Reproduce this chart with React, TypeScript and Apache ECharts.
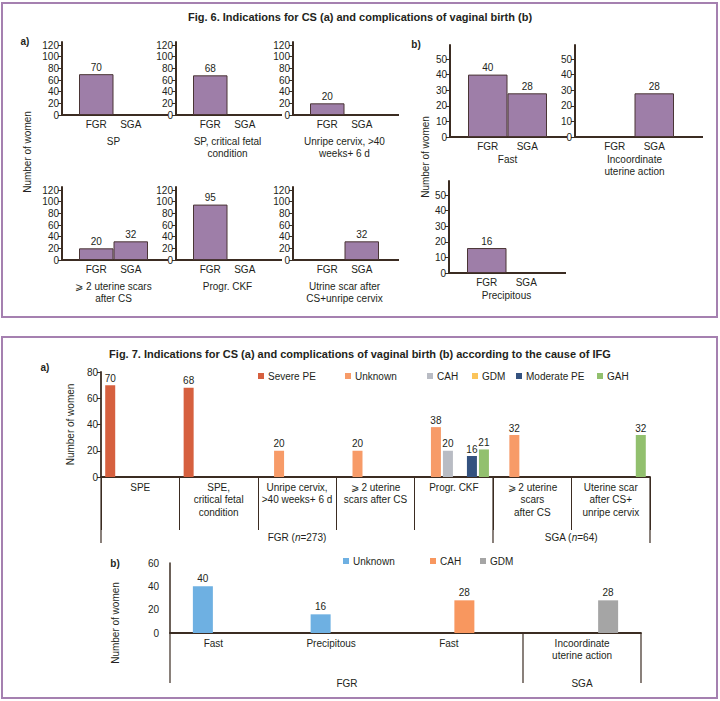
import React, { useEffect, useRef } from 'react';
import * as echarts from 'echarts';

// ---------- DATA ----------
const fig6Groups = ['FGR', 'SGA'];
const fig6aPanels = [
  'SP',
  'SP, critical fetal\ncondition',
  'Unripe cervix, >40\nweeks+ 6 d',
  '⩾ 2 uterine scars\nafter CS',
  'Progr. CKF',
  'Utrine scar after\nCS+unripe cervix',
];
const fig6aFGR = [70, 68, 20, 20, 95, null];
const fig6aSGA = [null, null, null, 32, null, 32];
const fig6aTicks = [0, 20, 40, 60, 80, 100, 120];

const fig6bPanels = ['Fast', 'Incoordinate\nuterine action', 'Precipitous'];
const fig6bFGR = [40, null, 16];
const fig6bSGA = [28, 28, null];
const fig6bTicks = [0, 10, 20, 30, 40, 50];

const fig7aCategories = [
  'SPE',
  'SPE,\ncritical fetal\ncondition',
  'Unripe cervix,\n>40 weeks+ 6 d',
  '⩾ 2 uterine\nscars after CS',
  'Progr. CKF',
  '⩾ 2 uterine\nscars\nafter CS',
  'Uterine scar\nafter CS+\nunripe cervix',
];
const fig7aSeriesNames = ['Severe PE', 'Unknown', 'CAH', 'GDM', 'Moderate PE', 'GAH'];
const fig7aSeverePE = [70, 68, null, null, null, null, null];
const fig7aUnknown = [null, null, 20, 20, 38, 32, null];
const fig7aCAH = [null, null, null, null, 20, null, null];
const fig7aGDM = [null, null, null, null, null, null, null];
const fig7aModeratePE = [null, null, null, null, 16, null, null];
const fig7aGAH = [null, null, null, null, 21, null, 32];
const fig7aGroups = ['FGR (n=273)', 'SGA (n=64)'];

const fig7bCategories = ['Fast', 'Precipitous', 'Fast', 'Incoordinate\nuterine action'];
const fig7bSeriesNames = ['Unknown', 'CAH', 'GDM'];
const fig7bUnknown = [40, 16, null, null];
const fig7bCAH = [null, null, 28, null];
const fig7bGDM = [null, null, null, 28];
const fig7bGroups = ['FGR', 'SGA'];

// ---------- STYLE / LAYOUT ----------
const FONT = '"Liberation Sans", Arial, sans-serif';
const NARROW = '"Liberation Sans Narrow", "Liberation Sans", Arial, sans-serif';
const INK = '#231f20';
const AXIS = '#3b2c22';
const BAR6 = '#9e7ea8';
const BAR6_EDGE = '#4a3535';
const BOX = '#a580b0';
const COLORS7A = ['#d6603f', '#f79b68', '#b9bcc4', '#fbc45a', '#34527f', '#92c06e'];
const COLORS7B = ['#6eb0e2', '#f8975f', '#a5a5a5'];

export default function App() {
  const ref = useRef<HTMLDivElement>(null);

  useEffect(() => {
    const chart = echarts.init(ref.current!, null, { renderer: 'svg' });
    const grids: any[] = [];
    const xAxes: any[] = [];
    const yAxes: any[] = [];
    const series: any[] = [];
    const graphics: any[] = [];
    const legends: any[] = [];

    const txt = { fontFamily: FONT, fontSize: 10, color: INK };

    const hline = (x1: number, x2: number, y: number, w = 1.5) =>
      graphics.push({ type: 'line', shape: { x1, y1: y, x2, y2: y }, style: { stroke: AXIS, lineWidth: w } });
    const vline = (x: number, y1: number, y2: number, w = 1) =>
      graphics.push({ type: 'line', shape: { x1: x, y1, x2: x, y2 }, style: { stroke: AXIS, lineWidth: w } });

    // small multiples for Fig. 6
    const addSmall = (
      x0: number, zero: number, pxPerUnit: number, max: number, ticks: number[],
      padL: number, catW: number, lineLen: number, name: string, nameGap: number,
      fgr: number | null, sga: number | null,
    ) => {
      const gi = grids.length;
      const h = max * pxPerUnit;
      grids.push({ left: x0 + padL, top: zero - h, width: catW * 2, height: h });
      xAxes.push({
        gridIndex: gi, type: 'category', data: fig6Groups,
        axisLine: { show: false }, axisTick: { show: false },
        axisLabel: { ...txt, margin: 4, interval: 0 },
        name, nameLocation: 'middle', nameGap,
        nameTextStyle: { ...txt, lineHeight: 12.5 },
      });
      yAxes.push({
        gridIndex: gi, type: 'value', min: 0, max, offset: padL,
        splitLine: { show: false },
        axisLine: { show: true, lineStyle: { color: AXIS, width: 2 } },
        axisTick: { show: true, length: 4, customValues: ticks, lineStyle: { color: AXIS } },
        axisLabel: { ...txt, margin: 3, customValues: ticks },
      });
      series.push({
        type: 'bar', xAxisIndex: gi, yAxisIndex: gi, data: [fgr, sga], barWidth: catW,
        itemStyle: { color: BAR6, borderColor: BAR6_EDGE, borderWidth: 1 },
        label: { show: true, position: 'top', distance: 2, ...txt },
      });
      hline(x0 - 1, x0 + lineLen, zero, 2);
    };

    // Fig 6 a)
    const aX0 = [62, 176, 293];
    const aZero = [115, 260];
    fig6aPanels.forEach((p, i) => {
      const r = Math.floor(i / 3);
      const c = i % 3;
      addSmall(aX0[c], aZero[r], 70 / 120, 125, fig6aTicks, 17, 34.5, 106, p, 20, fig6aFGR[i], fig6aSGA[i]);
    });
    // Fig 6 b)
    const bPos = [
      { x0: 450, zero: 137, padL: 18, len: 117 },
      { x0: 575, zero: 137, padL: 20, len: 128 },
      { x0: 449, zero: 273, padL: 18, len: 117 },
    ];
    fig6bPanels.forEach((p, i) => {
      const b = bPos[i];
      addSmall(b.x0, b.zero, 78 / 50, 59, fig6bTicks, b.padL, 39.5, b.len, p, 16, fig6bFGR[i], fig6bSGA[i]);
    });

    // Fig 7 a)
    const g7a = grids.length;
    grids.push({ left: 101, top: 372, width: 549, height: 105 });
    xAxes.push({
      gridIndex: g7a, type: 'category', data: fig7aCategories,
      axisLine: { show: true, lineStyle: { color: AXIS, width: 1.8 } },
      axisTick: { show: true, length: 53, lineStyle: { color: AXIS, width: 1 } },
      axisLabel: { ...txt, margin: 4, interval: 0, lineHeight: 12.5 },
    });
    yAxes.push({
      gridIndex: g7a, type: 'value', min: 0, max: 80, interval: 20,
      splitLine: { show: false },
      axisLine: { show: true, lineStyle: { color: AXIS, width: 1.8 } },
      axisTick: { show: true, length: 4, lineStyle: { color: AXIS } },
      axisLabel: { ...txt, margin: 3 },
      name: 'Number of women', nameLocation: 'middle', nameGap: 23,
      nameTextStyle: { ...txt },
    });
    const s7a = [fig7aSeverePE, fig7aUnknown, fig7aCAH, fig7aGDM, fig7aModeratePE, fig7aGAH];
    s7a.forEach((d, i) => {
      series.push({
        type: 'bar', name: fig7aSeriesNames[i], xAxisIndex: g7a, yAxisIndex: g7a, data: d,
        barWidth: 10, barGap: '20%', itemStyle: { color: COLORS7A[i] },
        label: { show: true, position: 'top', distance: 2, ...txt },
      });
    });
    const leg7aLeft = [258, 345, 427, 472, 516, 597];
    fig7aSeriesNames.forEach((n, i) => {
      legends.push({
        data: [n], left: leg7aLeft[i], top: 371, itemWidth: 6, itemHeight: 6, icon: 'rect',
        padding: 0, textStyle: { ...txt, padding: [0, 0, 0, -1] }, selectedMode: false,
      });
    });
    vline(101, 477, 543, 1.2);
    vline(493, 477, 543, 1.2);
    vline(650, 477, 543, 1.2);

    // Fig 7 b)
    const g7b = grids.length;
    grids.push({ left: 170, top: 563, width: 471, height: 70 });
    const shiftIdx = [0, 1, 2];
    xAxes.push({
      gridIndex: g7b, type: 'category', data: fig7bCategories,
      axisLine: { show: true, lineStyle: { color: AXIS, width: 1.8 } },
      axisTick: { show: false },
      axisLabel: {
        ...txt, margin: 4, interval: 0, lineHeight: 12.5,
        formatter: (v: string, i: number) => (shiftIdx.includes(i) ? `{s|${v}}` : v),
        rich: { s: { ...txt, padding: [0, 31, 0, 0] } },
      },
    });
    yAxes.push({
      gridIndex: g7b, type: 'value', min: 0, max: 60, interval: 20,
      splitLine: { show: false },
      axisLine: { show: true, lineStyle: { color: AXIS, width: 1.5 } },
      axisTick: { show: false },
      axisLabel: { ...txt, margin: 11 },
    });
    const s7b = [fig7bUnknown, fig7bCAH, fig7bGDM];
    s7b.forEach((d, i) => {
      series.push({
        type: 'bar', name: fig7bSeriesNames[i] + ' ', xAxisIndex: g7b, yAxisIndex: g7b, data: d,
        barWidth: 20, barGap: '30%', itemStyle: { color: COLORS7B[i] },
        label: { show: true, position: 'top', distance: 3, ...txt },
      });
    });
    const leg7bLeft = [343, 430, 480];
    fig7bSeriesNames.forEach((n, i) => {
      legends.push({
        data: [n + ' '], left: leg7bLeft[i], top: 556, itemWidth: 6, itemHeight: 6, icon: 'rect',
        padding: 0, textStyle: { ...txt, padding: [0, 0, 0, -1] }, selectedMode: false,
        formatter: (s: string) => s.trim(),
      });
    });
    vline(170, 633, 683, 1.2);
    vline(523, 633, 683, 1.2);
    vline(641, 633, 683, 1.2);

    // Boxes
    graphics.push({ type: 'rect', shape: { x: 2, y: 3, width: 715, height: 314 }, style: { fill: 'none', stroke: BOX, lineWidth: 2 } });
    graphics.push({ type: 'rect', shape: { x: 2, y: 337, width: 715, height: 361 }, style: { fill: 'none', stroke: BOX, lineWidth: 2 } });

    const text = (x: number, y: number, t: string, extra: any = {}, rotation = 0) =>
      graphics.push({
        type: 'text', x, y, rotation,
        style: { text: t, align: 'center', verticalAlign: 'middle', fill: INK, font: `10px ${FONT}`, ...extra },
      });

    text(360, 17, 'Fig. 6. Indications for CS (a) and complications of vaginal birth (b)', { font: `bold 11px ${NARROW}` });
    text(360, 354, 'Fig. 7. Indications for CS (a) and complications of vaginal birth (b) according to the cause of IFG', { font: `bold 11px ${NARROW}` });
    text(25, 41, 'a)', { font: `bold 10px ${FONT}` });
    text(416, 44, 'b)', { font: `bold 10px ${FONT}` });
    text(45, 367, 'a)', { font: `bold 10px ${FONT}` });
    text(115, 563, 'b)', { font: `bold 10px ${FONT}` });
    text(27, 152, 'Number of women', {}, Math.PI / 2);
    text(425, 157, 'Number of women', {}, Math.PI / 2);
    text(115, 623, 'Number of women', {}, Math.PI / 2);

    const groupLabel = (x: number, y: number, g: string) => {
      const m = g.match(/^(.*)\(n=(.*)\)$/);
      const t = m ? `{a|${m[1]}(}{i|n}{a|=${m[2]})}` : `{a|${g}}`;
      graphics.push({
        type: 'text', x, y,
        style: {
          text: t, align: 'center', verticalAlign: 'middle',
          rich: {
            a: { fontFamily: FONT, fontSize: 10, fill: INK },
            i: { fontFamily: FONT, fontSize: 10, fontStyle: 'italic', fill: INK },
          },
        },
      });
    };
    groupLabel(297, 537, fig7aGroups[0]);
    groupLabel(571, 537, fig7aGroups[1]);
    groupLabel(347, 683, fig7bGroups[0]);
    groupLabel(582, 683, fig7bGroups[1]);

    chart.setOption({
      animation: false,
      backgroundColor: '#ffffff',
      textStyle: { fontFamily: FONT },
      grid: grids,
      xAxis: xAxes,
      yAxis: yAxes,
      legend: legends,
      series,
      graphic: { elements: graphics },
    });
    return () => chart.dispose();
  }, []);

  return (
    <div
      ref={ref}
      style={{ position: 'absolute', left: 0, top: 0, width: 720, height: 701, background: '#fff' }}
    />
  );
}
